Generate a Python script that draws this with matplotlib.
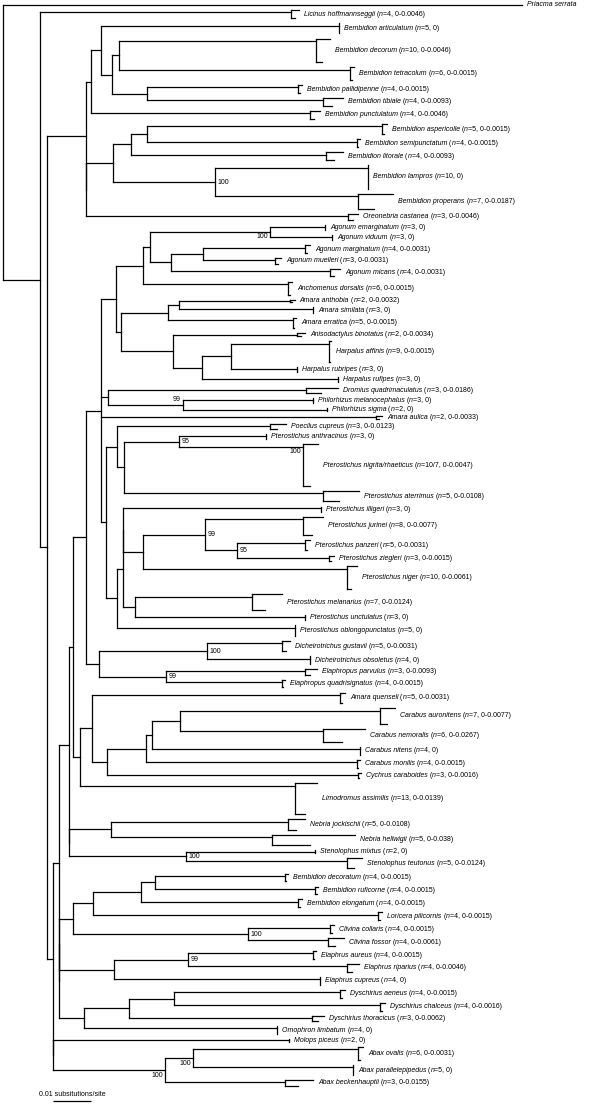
import matplotlib
matplotlib.use("Agg")
import matplotlib.pyplot as plt
from matplotlib.collections import LineCollection
from matplotlib.offsetbox import TextArea, HPacker, AnnotationBbox

# ---------------- data ----------------
species = [
    'Priacma serrata', 'Licinus hoffmannseggii', 'Bembidion articulatum', 'Bembidion decorum',
    'Bembidion tetracolum', 'Bembidion pallidipenne', 'Bembidion tibiale', 'Bembidion punctulatum',
    'Bembidion aspericolle', 'Bembidion semipunctatum', 'Bembidion litorale', 'Bembidion lampros',
    'Bembidion properans', 'Oreonebria castanea', 'Agonum emarginatum', 'Agonum viduum',
    'Agonum marginatum', 'Agonum muelleri', 'Agonum micans', 'Anchomenus dorsalis',
    'Amara anthobia', 'Amara similata', 'Amara erratica', 'Anisodactylus binotatus',
    'Harpalus affinis', 'Harpalus rubripes', 'Harpalus rufipes', 'Dromius quadrimaculatus',
    'Philorhizus melanocephalus', 'Philorhizus sigma', 'Amara aulica', 'Poecilus cupreus',
    'Pterostichus anthracinus', 'Pterostichus nigrita/rhaeticus', 'Pterostichus aterrimus',
    'Pterostichus illigeri', 'Pterostichus jurinei', 'Pterostichus panzeri', 'Pterostichus ziegleri',
    'Pterostichus niger', 'Pterostichus melanarius', 'Pterostichus unctulatus',
    'Pterostichus oblongopunctatus', 'Dicheirotrichus gustavii', 'Dicheirotrichus obsoletus',
    'Elaphropus parvulus', 'Elaphropus quadrisignatus', 'Amara quenseli', 'Carabus auronitens',
    'Carabus nemoralis', 'Carabus nitens', 'Carabus monilis', 'Cychrus caraboides',
    'Limodromus assimilis', 'Nebria jockischii', 'Nebria hellwigii', 'Stenolophus mixtus',
    'Stenolophus teutonus', 'Bembidion decoratum', 'Bembidion ruficorne', 'Bembidion elongatum',
    'Loricera pilicornis', 'Clivina collaris', 'Clivina fossor', 'Elaphrus aureus',
    'Elaphrus riparius', 'Elaphrus cupreus', 'Dyschirius aeneus', 'Dyschirius chalceus',
    'Dyschirius thoracicus', 'Omophron limbatum', 'Molops piceus', 'Abax ovalis',
    'Abax parallelepipedus', 'Abax beckenhauptii']

n_label = ['1', '4', '5', '10', '6', '4', '4', '4', '5', '4', '4', '10', '7', '3', '3', '3', '4', '3',
           '4', '6', '2', '3', '5', '2', '9', '3', '3', '3', '3', '2', '2', '3', '3', '10/7', '5', '3',
           '8', '5', '3', '10', '7', '3', '5', '5', '4', '3', '4', '5', '7', '6', '4', '4', '3', '13',
           '5', '5', '2', '5', '4', '4', '4', '4', '4', '4', '4', '4', '4', '4', '4', '3', '4', '2',
           '6', '5', '3']

dist_range = ['', '0-0.0046', '0', '0-0.0046', '0-0.0015', '0-0.0015', '0-0.0093', '0-0.0046',
              '0-0.0015', '0-0.0015', '0-0.0093', '0', '0-0.0187', '0-0.0046', '0', '0', '0-0.0031',
              '0-0.0031', '0-0.0031', '0-0.0015', '0-0.0032', '0', '0-0.0015', '0-0.0034', '0-0.0015',
              '0', '0', '0-0.0186', '0', '0', '0-0.0033', '0-0.0123', '0', '0-0.0047', '0-0.0108', '0',
              '0-0.0077', '0-0.0031', '0-0.0015', '0-0.0061', '0-0.0124', '0', '0', '0-0.0031', '0',
              '0-0.0093', '0-0.0015', '0-0.0031', '0-0.0077', '0-0.0267', '0', '0-0.0015', '0-0.0016',
              '0-0.0139', '0-0.0108', '0-0.038', '0', '0-0.0124', '0-0.0015', '0-0.0015', '0-0.0015',
              '0-0.0015', '0-0.0015', '0-0.0061', '0-0.0015', '0-0.0046', '0', '0-0.0015', '0-0.0016',
              '0-0.0062', '0', '0', '0-0.0031', '0', '0-0.0155']

sp_parent = ['root', 'N1', 'X', 'DT', 'DT', 'PT', 'PT', 'N5', 'AS', 'AS', 'Z', 'W', 'W', 'N3b',
             'EV', 'EV', 'MM', 'MM', 'N171', 'N143', 'AS2', 'AS2', 'Am', 'Ha', 'N231', 'N231', 'N202',
             'DP', 'Ph', 'Ph', 'N101', 'N117', 'N179', 'N179', 'N124', 'N123a', 'N99', 'N95', 'N95',
             'N143b', 'N135', 'N135', 'N117b', 'Dich', 'Dich', 'Elp', 'Elp', 'N92', 'N180', 'N180',
             'N152', 'N146', 'N107', 'N80', 'N111', 'N111', 'N186', 'N186', 'N155', 'N155', 'N141',
             'N93', 'Cl', 'Cl', 'N188', 'N188', 'N114', 'N174', 'N174', 'N129', 'N84', 'N53b', 'N193',
             'N193', 'N165']

# distance from the root (substitutions/site) at the base of each terminal group
sp_depth = [0.1377, 0.0764, 0.0891, 0.0830, 0.0920, 0.0782, 0.0849, 0.0814, 0.1005, 0.0939,
            0.0857, 0.0968, 0.0942, 0.0915, 0.0854, 0.0873, 0.0801, 0.0721, 0.0867, 0.0756,
            0.0761, 0.0822, 0.0769, 0.0780, 0.0865, 0.0780, 0.0889, 0.0804, 0.0822, 0.0859,
            0.0989, 0.0708, 0.0698, 0.0796, 0.0849, 0.0843, 0.0796, 0.0801, 0.0865, 0.0912,
            0.0660, 0.0801, 0.0775, 0.0740, 0.0814, 0.0801, 0.0740, 0.0894, 0.1000, 0.0849,
            0.0947, 0.0939, 0.0942, 0.0775, 0.0756, 0.0714, 0.0828, 0.0912, 0.0748, 0.0828,
            0.0782, 0.0995, 0.0867, 0.0862, 0.0822, 0.0912, 0.0841, 0.0894, 0.1000, 0.0820,
            0.0727, 0.0759, 0.0942, 0.0928, 0.0748]

# largest within-group branch length visible in the collapsed terminal
sp_spread = [0, 0.0021, 0, 0.0037, 0.0011, 0.0011, 0.0053, 0.0027, 0.0013, 0.0008,
             0.0045, 0, 0.0093, 0.0027, 0, 0, 0.0013, 0.0016, 0.0027, 0.0011,
             0.0013, 0, 0.0008, 0.0021, 0.0005, 0, 0, 0.0085, 0, 0,
             0.0016, 0.0042, 0, 0.0040, 0.0095, 0, 0.0053, 0.0013, 0.0013, 0.0027,
             0.0080, 0, 0, 0.0021, 0, 0.0032, 0.0008, 0.0013, 0.0040, 0.0111,
             0, 0.0008, 0.0008, 0.0058, 0.0045, 0.0220, 0, 0.0040, 0.0008, 0.0008,
             0.0011, 0.0011, 0.0011, 0.0042, 0.0008, 0.0032, 0, 0.0013, 0.0013, 0.0032,
             0, 0, 0.0013, 0, 0.0074]

node_name = ['root', 'N1', 'N2', 'N3', 'N5', 'X', 'Y', 'DT', 'PT', 'N3b', 'N6', 'Z', 'AS', 'W',
             'N53', 'N59', 'N69', 'N73', 'N86', 'N101', 'N116', 'N143', 'Ag', 'EV', 'N171', 'MM',
             'N121', 'Am', 'AS2', 'Ha', 'N202', 'N231', 'DP', 'Ph', 'N106', 'N117', 'N124', 'N179',
             'N117b', 'N123', 'N123a', 'N143b', 'N99', 'N95', 'N135', 'N99b', 'Dich', 'Elp',
             'N80', 'N92', 'N107', 'N146', 'N152', 'N180', 'N69b', 'N111', 'N186', 'N59b', 'N59c',
             'N73b', 'N93', 'N141', 'N155', 'Cl', 'N114', 'N188', 'N84', 'N129', 'N174', 'N53b',
             'N165', 'N193']
node_parent = [None, 'root', 'N1', 'N2', 'N3', 'N5', 'X', 'Y', 'Y', 'N3', 'N3b', 'N6', 'Z', 'N6',
               'N2', 'N53', 'N59', 'N69', 'N73', 'N86', 'N101', 'N116', 'N143', 'Ag', 'Ag', 'N171',
               'N116', 'N121', 'Am', 'N121', 'Ha', 'N202', 'N101', 'DP', 'N101', 'N106', 'N117',
               'N124', 'N106', 'N117b', 'N123', 'N123a', 'N143b', 'N99', 'N123', 'N86', 'N99b',
               'N99b', 'N73', 'N80', 'N92', 'N107', 'N146', 'N152', 'N69', 'N69b', 'N69b', 'N59',
               'N59b', 'N59c', 'N73b', 'N93', 'N141', 'N73b', 'N59c', 'N114', 'N59b', 'N84',
               'N129', 'N53', 'N53b', 'N165']
node_depth = [0.0, 0.0098, 0.0117, 0.0220, 0.0233, 0.0260, 0.0289, 0.0308, 0.0382, 0.0220, 0.0292,
              0.0340, 0.0382, 0.0562, 0.0133, 0.0149, 0.0175, 0.0186, 0.0220, 0.0260, 0.0300,
              0.0371, 0.0390, 0.0708, 0.0446, 0.0531, 0.0313, 0.0438, 0.0467, 0.0451, 0.0528,
              0.0605, 0.0279, 0.0477, 0.0273, 0.0302, 0.0321, 0.0467, 0.0302, 0.0318, 0.0318,
              0.0371, 0.0536, 0.0621, 0.0350, 0.0255, 0.0541, 0.0432, 0.0204, 0.0236, 0.0276,
              0.0379, 0.0395, 0.0469, 0.0175, 0.0286, 0.0485, 0.0149, 0.0149, 0.0186, 0.0239,
              0.0366, 0.0403, 0.0650, 0.0294, 0.0491, 0.0215, 0.0334, 0.0454, 0.0133, 0.0430,
              0.0504]
node_support = {'W': 100, 'EV': 100, 'Ph': 99, 'N179': 95, 'N99': 99, 'N95': 95, 'Dich': 100,
                'Elp': 99, 'N186': 100, 'Cl': 100, 'N188': 99, 'N165': 100, 'N193': 100}
species_support = {'Pterostichus nigrita/rhaeticus': 100}

scale_value = 0.01
scale_text = '0.01 subsitutions/site'

# ---------------- layout / style ----------------
plt.rcParams['font.family'] = ['Liberation Sans', 'DejaVu Sans']

FS = 5.0
LW = 0.9
PX_PER_UNIT = 3770.0
X0_PX = 3.0
GAP_ROWS = 2.0
TOP_PX, BOT_PX = 5.0, 1083.0

fig = plt.figure(figsize=(6.0, 11.06), dpi=100)
ax = fig.add_axes([0, 0, 1, 1])
ax.axis('off')

# rows of every terminal group
n_rows = [sum(int(p) for p in s.split('/')) for s in n_label]
sp_top, sp_mid, sp_bot, sp_attach = [], [], [], []
cur = 0.0
for n in n_rows:
    leaves = [cur + k for k in range(n)]
    y = leaves[-1]
    for k in range(n - 2, -1, -1):
        y = (leaves[k] + y) / 2.0
    sp_top.append(leaves[0]); sp_bot.append(leaves[-1])
    sp_mid.append((leaves[0] + leaves[-1]) / 2.0); sp_attach.append(y)
    cur = leaves[-1] + GAP_ROWS

R = sp_mid[-1] - sp_mid[0]
ppr = (BOT_PX - TOP_PX) / R


def row_of_px(px):
    return sp_mid[0] + (px - TOP_PX) / ppr


ax.set_xlim(-X0_PX / PX_PER_UNIT, (600 - X0_PX) / PX_PER_UNIT)
ax.set_ylim(row_of_px(1106), row_of_px(0))

depth_of = dict(zip(node_name, node_depth))
children = {nm: [] for nm in node_name}
for nm, par in zip(node_name, node_parent):
    if par is not None:
        children[par].append(('n', nm))
for i, par in enumerate(sp_parent):
    children[par].append(('s', i))

node_y, node_first = {}, {}


def layout(nm):
    items = []
    for kind, key in children[nm]:
        if kind == 'n':
            layout(key)
            items.append((node_first[key], node_y[key], kind, key))
        else:
            items.append((sp_top[key], sp_attach[key], kind, key))
    items.sort(key=lambda t: t[0])
    children[nm] = [(t[2], t[3]) for t in items]
    node_first[nm] = items[0][0]
    node_y[nm] = (items[0][1] + items[-1][1]) / 2.0


layout('root')

segs = []
for nm in node_name:
    d = depth_of[nm]
    ys = []
    for kind, key in children[nm]:
        if kind == 'n':
            cy, cd = node_y[key], depth_of[key]
        else:
            cy, cd = sp_attach[key], sp_depth[key]
        ys.append(cy)
        segs.append([(d, cy), (cd, cy)])
    segs.append([(d, min(ys)), (d, max(ys))])

for i in range(len(species)):
    d, s = sp_depth[i], sp_spread[i]
    if n_rows[i] > 1:
        segs.append([(d, sp_top[i]), (d, sp_bot[i])])
        if s > 0:
            segs.append([(d, sp_top[i]), (d + s, sp_top[i])])
            segs.append([(d, sp_bot[i]), (d + 0.45 * s, sp_bot[i])])

ax.add_collection(LineCollection(segs, colors='black', linewidths=LW, capstyle='projecting'))

# tip labels: italic name, upright details, italic n
ital = dict(fontsize=FS, fontstyle='italic', family='Liberation Sans')
upr = dict(fontsize=FS, family='Liberation Sans')
for i, name in enumerate(species):
    parts = [TextArea(name, textprops=ital)]
    if dist_range[i]:
        parts += [TextArea(' (', textprops=upr), TextArea('n', textprops=ital),
                  TextArea('=' + n_label[i] + ', ' + dist_range[i] + ')', textprops=upr)]
    box = HPacker(children=parts, align='baseline', pad=0, sep=0)
    ab = AnnotationBbox(box, (sp_depth[i] + sp_spread[i], sp_mid[i]), xybox=(3.6, 0),
                        xycoords='data', boxcoords='offset points', box_alignment=(0, 0.5),
                        frameon=False, pad=0)
    ax.add_artist(ab)

# support values
placement = {'EV': 'lb', 'N165': 'lb', 'N193': 'lb', 'Ph': 'la'}


def put_support(val, x, y, where):
    if where == 'lb':
        ax.annotate(str(val), xy=(x, y), xytext=(-1.5, -1.0), textcoords='offset points',
                    ha='right', va='top', fontsize=FS)
    elif where == 'la':
        ax.annotate(str(val), xy=(x, y), xytext=(-1.5, 1.0), textcoords='offset points',
                    ha='right', va='bottom', fontsize=FS)
    else:
        ax.annotate(str(val), xy=(x, y), xytext=(2.0, 0), textcoords='offset points',
                    ha='left', va='center', fontsize=FS)


for nm, val in node_support.items():
    put_support(val, depth_of[nm], node_y[nm], placement.get(nm, 'r'))
for name, val in species_support.items():
    i = species.index(name)
    put_support(val, sp_depth[i], sp_attach[i], 'lb')

# scale bar
sb_x0 = (53 - X0_PX) / PX_PER_UNIT
sb_y = row_of_px(1101)
ax.plot([sb_x0, sb_x0 + scale_value], [sb_y, sb_y], color='black', lw=LW, solid_capstyle='butt')
ax.text((39 - X0_PX) / PX_PER_UNIT, row_of_px(1094), scale_text, ha='left', va='center', fontsize=FS)

fig.savefig('out.png', dpi=100)
